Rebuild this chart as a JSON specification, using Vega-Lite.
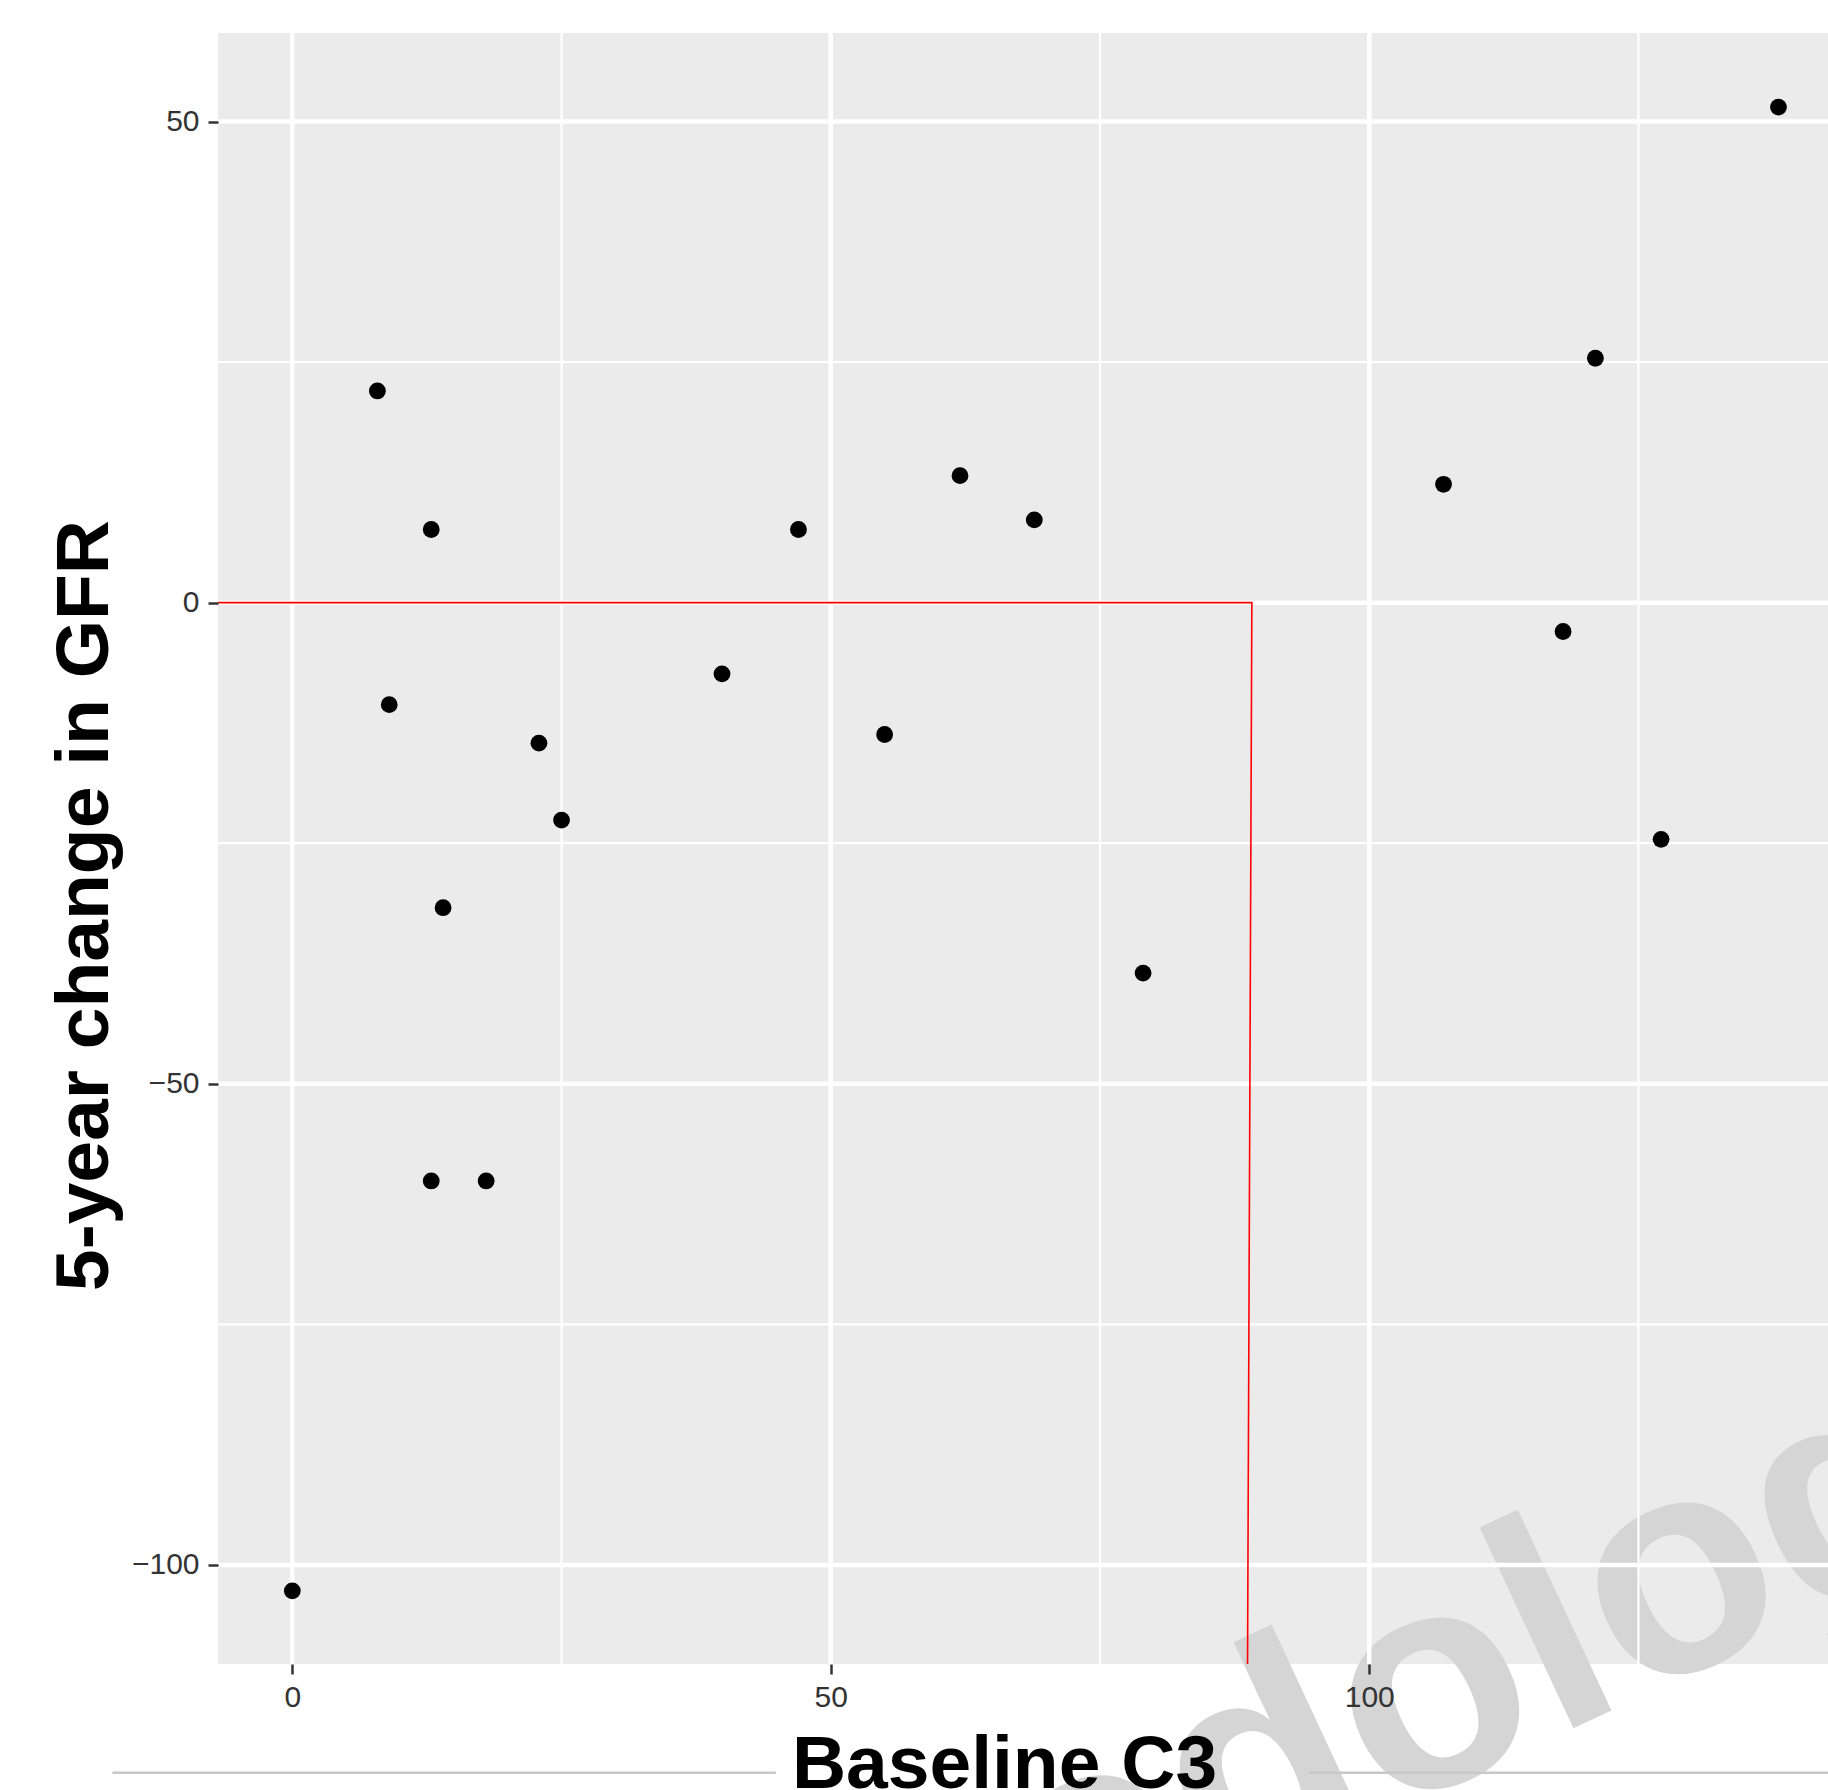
{
  "$schema": "https://vega.github.io/schema/vega-lite/v6.json",
  "width": 1610,
  "height": 1631,
  "autosize": {"type": "none"},
  "padding": {"left": 218, "top": 33, "right": 0, "bottom": 126},
  "background": "white",
  "config": {"view": {"fill": "#ebebeb", "stroke": null}},
  "datasets": {
    "points": [
      {"x": 138.0, "y": 51.5}, {"x": 7.9, "y": 22.0}, {"x": 121.0, "y": 25.4},
      {"x": 62.0, "y": 13.2}, {"x": 106.9, "y": 12.3}, {"x": 12.9, "y": 7.6},
      {"x": 47.0, "y": 7.6}, {"x": 68.9, "y": 8.6}, {"x": 118.0, "y": -3.0},
      {"x": 39.9, "y": -7.4}, {"x": 9.0, "y": -10.6}, {"x": 22.9, "y": -14.6},
      {"x": 55.0, "y": -13.7}, {"x": 25.0, "y": -22.6}, {"x": 127.1, "y": -24.6},
      {"x": 14.0, "y": -31.7}, {"x": 79.0, "y": -38.5}, {"x": 12.9, "y": -60.1},
      {"x": 18.0, "y": -60.1}, {"x": 0.0, "y": -102.7}
    ],
    "gridx": [
      {"x": 0, "k": "major"}, {"x": 25, "k": "minor"}, {"x": 50, "k": "major"},
      {"x": 75, "k": "minor"}, {"x": 100, "k": "major"}, {"x": 125, "k": "minor"}
    ],
    "gridy": [
      {"y": -100, "k": "major"}, {"y": -75, "k": "minor"}, {"y": -50, "k": "major"},
      {"y": -25, "k": "minor"}, {"y": 0, "k": "major"}, {"y": 25, "k": "minor"},
      {"y": 50, "k": "major"}
    ],
    "redline": [
      {"x": -6.9, "y": 0, "o": 1}, {"x": 89.1, "y": 0, "o": 2}, {"x": 88.7, "y": -110.3, "o": 3}
    ],
    "framelines": [
      {"x": -16.7, "x2": 44.9, "y": -121.6}, {"x": 94.4, "x2": 142.6, "y": -121.6}
    ],
    "watermark": [
      {"x": 170.1, "y": -90.3, "t": "Methodology"}
    ]
  },
  "layer": [
    {
      "data": {"name": "watermark"},
      "mark": {"type": "text", "angle": -25, "fontSize": 306, "fontWeight": "bold", "font": "Liberation Sans", "color": "#d5d5d5", "align": "right", "baseline": "alphabetic"},
      "encoding": {
        "x": {"field": "x", "type": "quantitative", "scale": {"domain": [-6.9, 142.6], "nice": false, "zero": false},
          "axis": {"values": [0, 50, 100], "grid": false, "domain": false, "tickSize": 10, "tickWidth": 2.5, "tickColor": "#333333", "labelFontSize": 30, "labelColor": "#333333", "labelFont": "Liberation Sans", "labelPadding": 8, "title": "Baseline C3", "titleFontSize": 75, "titleFont": "Liberation Sans", "titleFontWeight": "bold", "titleColor": "#000000", "titleX": 786, "titleY": 123, "titleBaseline": "alphabetic", "titleAlign": "center", "zindex": 1}},
        "y": {"field": "y", "type": "quantitative", "scale": {"domain": [-110.3, 59.2], "nice": false, "zero": false},
          "axis": {"values": [-100, -50, 0, 50], "grid": false, "domain": false, "tickSize": 10, "tickWidth": 2.5, "tickColor": "#333333", "labelFontSize": 30, "labelColor": "#333333", "labelFont": "Liberation Sans", "labelPadding": 9, "title": "5-year change in GFR", "titleFontSize": 75, "titleFont": "Liberation Sans", "titleFontWeight": "bold", "titleColor": "#000000", "titleX": -111, "titleY": 872, "titleAngle": -90, "titleBaseline": "alphabetic", "titleAlign": "center", "zindex": 1}},
        "text": {"field": "t"}
      }
    },
    {
      "data": {"name": "gridx"},
      "mark": {"type": "rule", "color": "white"},
      "encoding": {
        "x": {"field": "x", "type": "quantitative",
          "axis": {"values": [0, 50, 100], "grid": false, "domain": false, "tickSize": 10, "tickWidth": 2.5, "tickColor": "#333333", "labelFontSize": 30, "labelColor": "#333333", "labelFont": "Liberation Sans", "labelPadding": 8, "title": "Baseline C3", "titleFontSize": 75, "titleFont": "Liberation Sans", "titleFontWeight": "bold", "titleColor": "#000000", "titleX": 786, "titleY": 123, "titleBaseline": "alphabetic", "titleAlign": "center", "zindex": 1}},
        "strokeWidth": {"field": "k", "type": "nominal", "scale": {"domain": ["major", "minor"], "range": [4.5, 2.2]}, "legend": null}
      }
    },
    {
      "data": {"name": "gridy"},
      "mark": {"type": "rule", "color": "white"},
      "encoding": {
        "y": {"field": "y", "type": "quantitative",
          "axis": {"values": [-100, -50, 0, 50], "grid": false, "domain": false, "tickSize": 10, "tickWidth": 2.5, "tickColor": "#333333", "labelFontSize": 30, "labelColor": "#333333", "labelFont": "Liberation Sans", "labelPadding": 9, "title": "5-year change in GFR", "titleFontSize": 75, "titleFont": "Liberation Sans", "titleFontWeight": "bold", "titleColor": "#000000", "titleX": -111, "titleY": 872, "titleAngle": -90, "titleBaseline": "alphabetic", "titleAlign": "center", "zindex": 1}},
        "strokeWidth": {"field": "k", "type": "nominal", "scale": {"domain": ["major", "minor"], "range": [4.5, 2.2]}, "legend": null}
      }
    },
    {
      "data": {"name": "redline"},
      "mark": {"type": "line", "color": "#ff0000", "strokeWidth": 1.6},
      "encoding": {
        "x": {"field": "x", "type": "quantitative",
          "axis": {"values": [0, 50, 100], "grid": false, "domain": false, "tickSize": 10, "tickWidth": 2.5, "tickColor": "#333333", "labelFontSize": 30, "labelColor": "#333333", "labelFont": "Liberation Sans", "labelPadding": 8, "title": "Baseline C3", "titleFontSize": 75, "titleFont": "Liberation Sans", "titleFontWeight": "bold", "titleColor": "#000000", "titleX": 786, "titleY": 123, "titleBaseline": "alphabetic", "titleAlign": "center", "zindex": 1}},
        "y": {"field": "y", "type": "quantitative",
          "axis": {"values": [-100, -50, 0, 50], "grid": false, "domain": false, "tickSize": 10, "tickWidth": 2.5, "tickColor": "#333333", "labelFontSize": 30, "labelColor": "#333333", "labelFont": "Liberation Sans", "labelPadding": 9, "title": "5-year change in GFR", "titleFontSize": 75, "titleFont": "Liberation Sans", "titleFontWeight": "bold", "titleColor": "#000000", "titleX": -111, "titleY": 872, "titleAngle": -90, "titleBaseline": "alphabetic", "titleAlign": "center", "zindex": 1}},
        "order": {"field": "o", "type": "quantitative"}
      }
    },
    {
      "data": {"name": "framelines"},
      "mark": {"type": "rule", "color": "#c8c8c8", "strokeWidth": 2.5},
      "encoding": {
        "x": {"field": "x", "type": "quantitative",
          "axis": {"values": [0, 50, 100], "grid": false, "domain": false, "tickSize": 10, "tickWidth": 2.5, "tickColor": "#333333", "labelFontSize": 30, "labelColor": "#333333", "labelFont": "Liberation Sans", "labelPadding": 8, "title": "Baseline C3", "titleFontSize": 75, "titleFont": "Liberation Sans", "titleFontWeight": "bold", "titleColor": "#000000", "titleX": 786, "titleY": 123, "titleBaseline": "alphabetic", "titleAlign": "center", "zindex": 1}},
        "x2": {"field": "x2"},
        "y": {"field": "y", "type": "quantitative",
          "axis": {"values": [-100, -50, 0, 50], "grid": false, "domain": false, "tickSize": 10, "tickWidth": 2.5, "tickColor": "#333333", "labelFontSize": 30, "labelColor": "#333333", "labelFont": "Liberation Sans", "labelPadding": 9, "title": "5-year change in GFR", "titleFontSize": 75, "titleFont": "Liberation Sans", "titleFontWeight": "bold", "titleColor": "#000000", "titleX": -111, "titleY": 872, "titleAngle": -90, "titleBaseline": "alphabetic", "titleAlign": "center", "zindex": 1}}
      }
    },
    {
      "data": {"name": "points"},
      "mark": {"type": "circle", "color": "black", "opacity": 1, "size": 283},
      "encoding": {
        "x": {"field": "x", "type": "quantitative",
          "axis": {"values": [0, 50, 100], "grid": false, "domain": false, "tickSize": 10, "tickWidth": 2.5, "tickColor": "#333333", "labelFontSize": 30, "labelColor": "#333333", "labelFont": "Liberation Sans", "labelPadding": 8, "title": "Baseline C3", "titleFontSize": 75, "titleFont": "Liberation Sans", "titleFontWeight": "bold", "titleColor": "#000000", "titleX": 786, "titleY": 123, "titleBaseline": "alphabetic", "titleAlign": "center", "zindex": 1}},
        "y": {"field": "y", "type": "quantitative",
          "axis": {"values": [-100, -50, 0, 50], "grid": false, "domain": false, "tickSize": 10, "tickWidth": 2.5, "tickColor": "#333333", "labelFontSize": 30, "labelColor": "#333333", "labelFont": "Liberation Sans", "labelPadding": 9, "title": "5-year change in GFR", "titleFontSize": 75, "titleFont": "Liberation Sans", "titleFontWeight": "bold", "titleColor": "#000000", "titleX": -111, "titleY": 872, "titleAngle": -90, "titleBaseline": "alphabetic", "titleAlign": "center", "zindex": 1}}
      }
    }
  ]
}
